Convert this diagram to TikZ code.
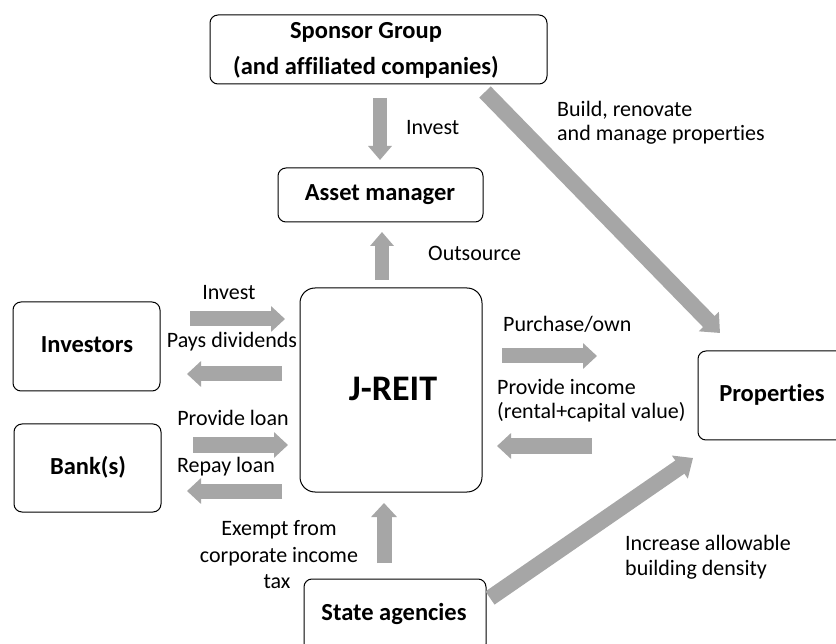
\documentclass[tikz,border=0pt]{standalone}
\usepackage{fontspec}
\setmainfont[Ligatures=CommonOff]{Carlito}
\usetikzlibrary{arrows.meta}
\definecolor{arrgray}{HTML}{A6A6A6}
\begin{document}
\begin{tikzpicture}[x=1pt,y=-1pt,
  box/.style={draw=black, line width=1pt, rounded corners=8pt, inner sep=0pt},
  bold/.style={font=\fontsize{24.5}{30}\selectfont\bfseries, inner sep=0pt},
  lab/.style={font=\fontsize{22}{24}\selectfont, inner sep=0pt},
  fat/.style={draw=arrgray, line width=15pt, line cap=butt, -{Triangle[width=25pt,length=14pt]}},
]
\useasboundingbox (0,0) rectangle (836,644);
\clip (0,0) rectangle (836,644);
\fill[white] (0,0) rectangle (836,644);

% boxes
\node[box, minimum width=337pt, minimum height=69pt] (sponsor) at (378.5,49.5) {};
\node[box, minimum width=205pt, minimum height=54pt] (asset) at (380.5,195) {};
\node[box, rounded corners=15pt, minimum width=182pt, minimum height=204pt] (jreit) at (391,390) {};
\node[box, minimum width=147pt, minimum height=89pt] (investors) at (86.5,346.5) {};
\node[box, minimum width=147pt, minimum height=88pt] (bank) at (87.5,468) {};
\node[box, minimum width=148pt, minimum height=89pt] (props) at (772,395.5) {};
\node[box, minimum width=182pt, minimum height=73pt] (state) at (395,615.5) {};

% box texts
\node[bold, anchor=base] (tsp1) at (366,39) {Sponsor Group};
\node[bold, anchor=base] (tsp2) at (366,75) {(and affiliated companies)};
\node[bold, anchor=base] (tasset) at (380,201) {Asset manager};
\node[font=\fontsize{36}{40}\selectfont\bfseries, inner sep=0pt, anchor=base] (tjreit) at (393,401) {J-REIT};
\node[bold, anchor=base] (tinv) at (87,353) {Investors};
\node[bold, anchor=base] (tbank) at (88,475) {Bank(s)};
\node[bold, anchor=base] (tprops) at (772,402) {Properties};
\node[bold, anchor=base] (tstate) at (394,620) {State agencies};

% labels
\node[lab, anchor=base west] (l1) at (406,135) {Invest};
\node[lab, anchor=base west] (l2) at (428,261) {Outsource};
\node[lab, anchor=base west] (l3a) at (557,117) {Build, renovate};
\node[lab, anchor=base west] (l3b) at (557,141) {and manage properties};
\node[lab, anchor=base] (l4) at (229,300) {Invest};
\node[lab, anchor=base] (l5) at (232,348) {Pays dividends};
\node[lab, anchor=base] (l6) at (233,426) {Provide loan};
\node[lab, anchor=base] (l7) at (226,472) {Repay loan};
\node[lab, anchor=base west] (l8) at (503,332) {Purchase/own};
\node[lab, anchor=base west] (l9a) at (497,395) {Provide income};
\node[lab, anchor=base west] (l9b) at (497,418) {(rental+capital value)};
\node[lab, anchor=base] (l10a) at (279,535) {Exempt from};
\node[lab, anchor=base] (l10b) at (279,562) {corporate income};
\node[lab, anchor=base] (l10c) at (277,588) {tax};
\node[lab, anchor=base west] (l11a) at (625,550) {Increase allowable};
\node[lab, anchor=base west] (l11b) at (625,575) {building density};

% arrow end points
\coordinate (a1s) at (380,98);  \coordinate (a1e) at (380,160);
\coordinate (a2s) at (382,280); \coordinate (a2e) at (382,232);
\coordinate (a3s) at (190,319); \coordinate (a3e) at (285,319);
\coordinate (a4s) at (282,374); \coordinate (a4e) at (187,374);
\coordinate (a5s) at (193,445); \coordinate (a5e) at (288,445);
\coordinate (a6s) at (282,491); \coordinate (a6e) at (187,491);
\coordinate (a7s) at (502,356); \coordinate (a7e) at (597,356);
\coordinate (a8s) at (592,446); \coordinate (a8e) at (497,446);
\coordinate (a9s) at (384,563); \coordinate (a9e) at (384,503);
\coordinate (a10s) at (485,92); \coordinate (a10e) at (720,333);
\coordinate (a11s) at (490,598); \coordinate (a11e) at (693,458);

\draw[fat, line width=14pt, -{Triangle[width=23pt,length=14pt]}] (a1s) -- (a1e);
\draw[fat, line width=14pt, -{Triangle[width=23pt,length=14pt]}] (a2s) -- (a2e);
\draw[fat] (a3s) -- (a3e);
\draw[fat] (a4s) -- (a4e);
\draw[fat] (a5s) -- (a5e);
\draw[fat] (a6s) -- (a6e);
\draw[fat] (a7s) -- (a7e);
\draw[fat] (a8s) -- (a8e);
\draw[fat] (a9s) -- (a9e);
\draw[fat, line width=16pt, -{Triangle[width=27pt,length=16pt]}] (a10s) -- (a10e);
\draw[fat, line width=16pt, -{Triangle[width=27pt,length=16pt]}] (a11s) -- (a11e);
\end{tikzpicture}
\end{document}
